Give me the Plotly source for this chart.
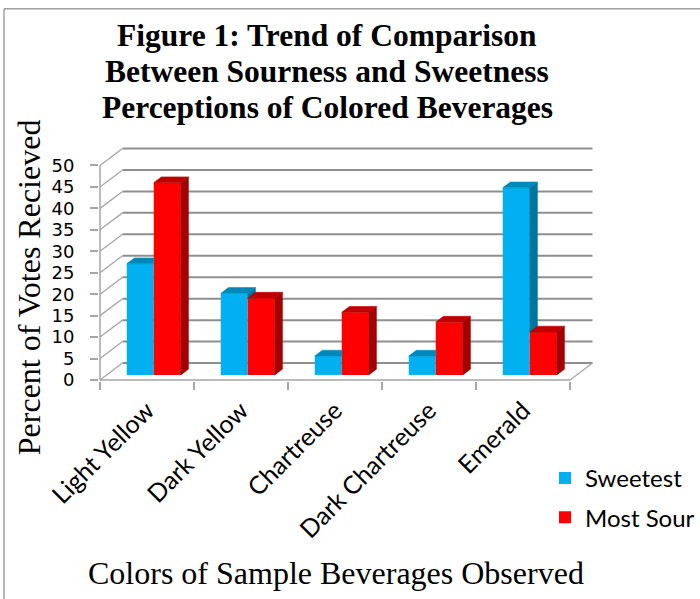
import plotly.graph_objects as go

# ---------------- data ----------------
categories = ["Light Yellow", "Dark Yellow", "Chartreuse", "Dark Chartreuse", "Emerald"]
sweetest = [25.9, 19.0, 4.4, 4.4, 43.6]
most_sour = [44.8, 17.9, 14.6, 12.3, 10.0]
y_ticks = [0, 5, 10, 15, 20, 25, 30, 35, 40, 45, 50]
title_lines = ["Figure 1: Trend of Comparison",
               "Between Sourness and Sweetness",
               "Perceptions of Colored Beverages"]
x_title = "Colors of Sample Beverages Observed"
y_title = "Percent of Votes Recieved"
series_names = ["Sweetest", "Most Sour"]

# ---------------- geometry / style ----------------
W, H = 700, 599
KX, KY = 94.0, 4.3          # px per category, px per percent
FX, FY = 100.0, 380.0       # px of front corner (x=-0.5, y=0)
DX, DY = 22.5 / KX, 17.0 / KY   # depth of the 3-D box in data units
BF = 0.30                   # bar front depth fraction
BD = 0.34                   # bar depth fraction
BW = 27.0 / KX              # bar width
YMAX = y_ticks[-1]

xr = [-0.5 - 1.0 / KX, len(categories) - 0.5 + DX + 1.5 / KX]
yr = [-1.0 / KY, YMAX + DY + 1.5 / KY]
left = FX + (xr[0] + 0.5) * KX
right = FX + (xr[1] + 0.5) * KX
top = FY - yr[1] * KY
bottom = FY - yr[0] * KY


def pp(xp, yp):
    return (xp - left) / (right - left), (bottom - yp) / (bottom - top)


COL = {
    "Sweetest": ("#00B0F0", "#00769F", "#0088BA"),
    "Most Sour": ("#FF0000", "#A50000", "#C00000"),
}
GRID = "#8E8E8E"
WALL = "#A6A6A6"


def clip_half(poly, axis, val, keep_ge):
    out = []
    n = len(poly)
    for i in range(n):
        cur, prev = poly[i], poly[i - 1]
        cin = cur[axis] >= val if keep_ge else cur[axis] <= val
        pin = prev[axis] >= val if keep_ge else prev[axis] <= val
        if cin != pin:
            t = (val - prev[axis]) / (cur[axis] - prev[axis])
            out.append((prev[0] + t * (cur[0] - prev[0]), prev[1] + t * (cur[1] - prev[1])))
        if cin:
            out.append(cur)
    return out


def area(poly):
    if len(poly) < 3:
        return 0
    s = 0
    for i in range(len(poly)):
        x1, y1 = poly[i - 1]
        x2, y2 = poly[i]
        s += x1 * y2 - x2 * y1
    return abs(s) / 2


def add_polys(xs, ys, polys):
    for p in polys:
        if area(p) < 1e-6:
            continue
        for (a, b) in p + [p[0]]:
            xs.append(a)
            ys.append(b)
        xs.append(None)
        ys.append(None)


fig = go.Figure()

base = BF * DY
ddx, ddy = BD * DX, BD * DY
centers = list(range(len(categories)))

# front faces as bars
for name, vals, sgn in [("Sweetest", sweetest, -1), ("Most Sour", most_sour, 1)]:
    fig.add_trace(go.Bar(
        x=[c + BF * DX + sgn * BW / 2 for c in centers],
        y=vals, base=base, width=BW, name=name,
        marker=dict(color=COL[name][0], line=dict(width=0)),
        customdata=[[categories[i], vals[i]] for i in centers],
        hovertemplate="%{customdata[0]}<br>" + name + ": %{customdata[1]}%<extra></extra>",
        legendgroup=name,
    ))

# side and top faces
faces = {n: {"side": ([], []), "cap": ([], [])} for n in series_names}
for c in centers:
    xm = c + BF * DX
    vs, vr = sweetest[c], most_sour[c]
    # sweet bar (left), partly hidden by sour front face
    xl, xrr, t = xm - BW, xm, base + vs
    side = [(xrr, base), (xrr + ddx, base + ddy), (xrr + ddx, t + ddy), (xrr, t)]
    cap = [(xl, t), (xl + ddx, t + ddy), (xrr + ddx, t + ddy), (xrr, t)]
    for key, poly in [("side", side), ("cap", cap)]:
        vis = [clip_half(poly, 0, xrr, False),
               clip_half(clip_half(poly, 0, xrr, True), 1, base + vr, True)]
        add_polys(*faces["Sweetest"][key], vis)
    # sour bar (right)
    xl, xrr, t = xm, xm + BW, base + vr
    side = [(xrr, base), (xrr + ddx, base + ddy), (xrr + ddx, t + ddy), (xrr, t)]
    cap = [(xl, t), (xl + ddx, t + ddy), (xrr + ddx, t + ddy), (xrr, t)]
    add_polys(*faces["Most Sour"]["side"], [side])
    add_polys(*faces["Most Sour"]["cap"], [cap])

for name in series_names:
    for key, col in [("side", COL[name][1]), ("cap", COL[name][2])]:
        xs, ys = faces[name][key]
        fig.add_trace(go.Scatter(
            x=xs, y=ys, mode="lines", fill="toself", fillcolor=col,
            line=dict(width=0.6, color=col), hoverinfo="skip", showlegend=False,
        ))

# walls / gridlines (shapes below traces)
shapes = []
x_back_l = -0.5 + DX
x_back_r = len(categories) - 0.5 + DX
for v in y_ticks:
    shapes.append(dict(type="line", xref="x", yref="y", layer="below",
                       x0=x_back_l, y0=v + DY, x1=x_back_r, y1=v + DY,
                       line=dict(color=GRID, width=2)))
    shapes.append(dict(type="line", xref="x", yref="y", layer="below",
                       x0=-0.5, y0=v, x1=x_back_l, y1=v + DY,
                       line=dict(color=WALL, width=1.3)))
shapes.append(dict(type="line", xref="x", yref="y", layer="below",
                   x0=-0.5, y0=0, x1=-0.5, y1=YMAX, line=dict(color=WALL, width=1.5)))
shapes.append(dict(type="line", xref="x", yref="y", layer="below",
                   x0=-0.5, y0=0, x1=len(categories) - 0.5, y1=0, line=dict(color=WALL, width=1.5)))
shapes.append(dict(type="line", xref="x", yref="y", layer="below",
                   x0=len(categories) - 0.5, y0=0, x1=x_back_r, y1=DY, line=dict(color=WALL, width=1.3)))
# outer chart border (left and top)
bx0, by0 = pp(4, 8)
bx1, _ = pp(W + 5, 8)
_, by1 = pp(4, H + 5)
shapes.append(dict(type="line", xref="paper", yref="paper", x0=bx0, y0=by0, x1=bx0, y1=by1,
                   line=dict(color="#A0A0A0", width=1.5)))
shapes.append(dict(type="line", xref="paper", yref="paper", x0=bx0, y0=by0, x1=bx1, y1=by0,
                   line=dict(color="#A0A0A0", width=1.5)))

annotations = []
for i, line in enumerate(title_lines):
    ax, ay = pp(327, 35 + 36 * i)
    annotations.append(dict(text="<b>" + line + "</b>", xref="paper", yref="paper",
                            x=ax, y=ay, xanchor="center", yanchor="middle", showarrow=False,
                            font=dict(family="Liberation Serif", size=31.5, color="black")))
ax, ay = pp(29, 287)
annotations.append(dict(text=y_title, xref="paper", yref="paper", x=ax, y=ay, textangle=-90,
                        xanchor="center", yanchor="middle", showarrow=False,
                        font=dict(family="Liberation Serif", size=32, color="black")))
ax, ay = pp(336, 573)
annotations.append(dict(text=x_title, xref="paper", yref="paper", x=ax, y=ay,
                        xanchor="center", yanchor="middle", showarrow=False,
                        font=dict(family="Liberation Serif", size=32, color="black")))

lx, ly = pp(545, 456)
fig.update_layout(
    width=W, height=H,
    margin=dict(l=left, r=W - right, t=top, b=H - bottom, autoexpand=False),
    paper_bgcolor="white", plot_bgcolor="white",
    barmode="overlay",
    shapes=shapes, annotations=annotations,
    showlegend=True,
    legend=dict(x=lx, y=ly, xanchor="left", yanchor="top", traceorder="grouped",
                tracegroupgap=5, bgcolor="rgba(0,0,0,0)",
                font=dict(family="Lato", size=24, color="black")),
    xaxis=dict(range=xr, tickvals=centers, ticktext=categories, tickangle=-45,
               tickfont=dict(family="Lato", size=25, color="black"),
               ticks="", showgrid=False, zeroline=False, showline=False,
               ticklabelstandoff=9,
               minor=dict(tickvals=[c - 0.5 for c in centers] + [len(categories) - 0.5],
                          ticks="outside", ticklen=8, tickcolor=WALL, tickwidth=1.5,
                          showgrid=False)),
    yaxis=dict(range=yr, tickvals=y_ticks, ticks="outside", ticklen=8, tickcolor=WALL,
               tickwidth=1.5, tickfont=dict(family="DejaVu Sans", size=18, color="black"),
               showgrid=False, zeroline=False, showline=False, ticklabelstandoff=12),
)

fig.write_html("out.html", post_script="document.body.style.margin='0';",
               config={"displayModeBar": False})
